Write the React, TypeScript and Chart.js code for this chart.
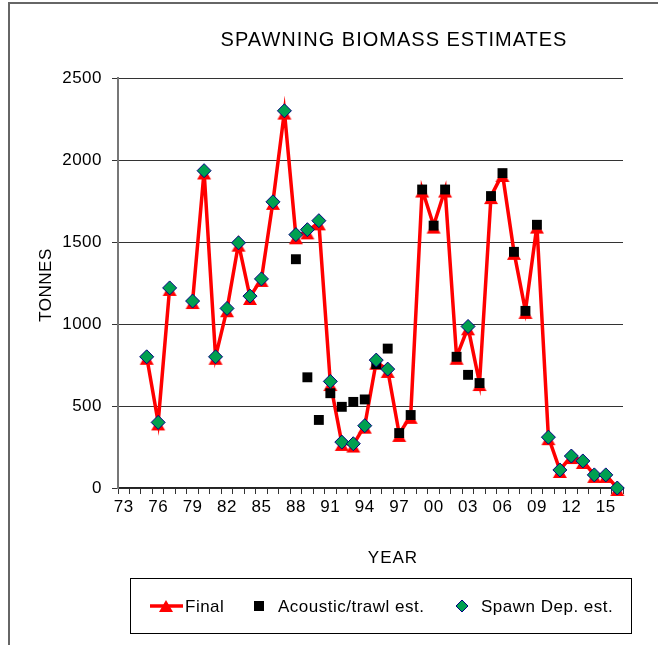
import React, { useEffect, useRef } from 'react';
import { Chart, registerables } from 'chart.js';

Chart.register(...registerables);

const YEARS = ['73','74','75','76','77','78','79','80','81','82','83','84','85','86','87','88','89','90','91','92','93','94','95','96','97','98','99','00','01','02','03','04','05','06','07','08','09','10','11','12','13','14','15','16'];
const X_TICK_LABELS = ['73','76','79','82','85','88','91','94','97','00','03','06','09','12','15'];

const FINAL = [null, null, 800, 400, 1220, null, 1140, 1930, 800, 1090, 1490, 1165, 1275, 1745, 2295, 1535, 1565, 1620, 640, 275, 265, 380, 770, 720, 330, 440, 1820, 1600, 1820, 800, 980, 640, 1780, 1915, 1440, 1080, 1600, 310, 110, 195, 165, 80, 80, 0];
const ACOUSTIC = [null, null, null, null, null, null, null, null, null, null, null, null, null, null, null, 1395, 675, 415, 578, 495, 525, 540, 755, 850, 335, 445, 1820, 1600, 1820, 800, 690, 640, 1780, 1920, 1440, 1080, 1605, null, null, null, null, null, null, null];
const SPAWN = [null, null, 800, 400, 1220, null, 1140, 1935, 800, 1095, 1495, 1170, 1275, 1745, 2300, 1545, 1575, 1630, 650, 280, 270, 380, 780, 725, null, null, null, null, null, null, 985, null, null, null, null, null, null, 310, 110, 195, 165, 80, 80, 0];

const TITLE = 'SPAWNING BIOMASS ESTIMATES';
const Y_TITLE = 'TONNES';
const X_TITLE = 'YEAR';
const LEGEND_LABELS = ['Final', 'Acoustic/trawl est.', 'Spawn Dep. est.'];

const FONT = '"Liberation Sans", Arial, sans-serif';
const RED = '#FF0000';
const GREEN = '#00A050';
const NAVY = '#000080';

function drawTri(ctx: CanvasRenderingContext2D, cx: number, cy: number) {
  ctx.beginPath();
  ctx.moveTo(cx, cy - 4);
  ctx.lineTo(cx + 7, cy + 8);
  ctx.lineTo(cx - 7, cy + 8);
  ctx.closePath();
  ctx.fill();
}

function makeTriangle(): HTMLCanvasElement {
  const c = document.createElement('canvas');
  c.width = 16;
  c.height = 24;
  const g = c.getContext('2d')!;
  g.fillStyle = RED;
  drawTri(g, 8, 12);
  return c;
}

const decorPlugin = {
  id: 'decor',
  beforeDraw(chart: any) {
    const ctx = chart.ctx as any;
    ctx.letterSpacing = '0.5px';
  },
  afterDraw(chart: any) {
    const ctx = chart.ctx as any;
    ctx.save();
    // frame
    ctx.strokeStyle = '#666';
    ctx.lineWidth = 2;
    ctx.beginPath();
    ctx.moveTo(9, 645);
    ctx.lineTo(9, 3);
    ctx.lineTo(658, 3);
    ctx.stroke();

    ctx.fillStyle = '#000';
    ctx.textAlign = 'center';
    ctx.textBaseline = 'middle';
    // title
    ctx.font = `20px ${FONT}`;
    ctx.letterSpacing = '1px';
    ctx.fillText(TITLE, 394, 40);
    // axis titles
    ctx.font = `17px ${FONT}`;
    ctx.letterSpacing = '1px';
    ctx.fillText(X_TITLE, 393, 558);
    ctx.letterSpacing = '0.5px';
    ctx.save();
    ctx.translate(46, 285);
    ctx.rotate(-Math.PI / 2);
    ctx.fillText(Y_TITLE, 0, 0);
    ctx.restore();

    // legend box
    ctx.strokeStyle = '#000';
    ctx.lineWidth = 1;
    ctx.strokeRect(130.5, 578.5, 501, 55);
    const ly = 606;
    ctx.textAlign = 'left';
    ctx.font = `17px ${FONT}`;
    ctx.letterSpacing = '0.5px';
    // Final
    ctx.strokeStyle = RED;
    ctx.lineWidth = 3.5;
    ctx.beginPath();
    ctx.moveTo(150, ly);
    ctx.lineTo(183, ly);
    ctx.stroke();
    ctx.fillStyle = RED;
    drawTri(ctx, 166, ly - 2);
    ctx.fillStyle = '#000';
    ctx.fillText(LEGEND_LABELS[0], 185, ly + 1);
    // Acoustic
    ctx.fillRect(254, ly - 5, 10, 10);
    ctx.fillText(LEGEND_LABELS[1], 278, ly + 1);
    // Spawn
    ctx.fillStyle = GREEN;
    ctx.strokeStyle = NAVY;
    ctx.lineWidth = 1;
    ctx.beginPath();
    ctx.moveTo(462, ly - 6);
    ctx.lineTo(468, ly);
    ctx.lineTo(462, ly + 6);
    ctx.lineTo(456, ly);
    ctx.closePath();
    ctx.fill();
    ctx.stroke();
    ctx.fillStyle = '#000';
    ctx.fillText(LEGEND_LABELS[2], 481, ly + 1);
    ctx.restore();
  },
};

export default function App() {
  const ref = useRef<HTMLCanvasElement>(null);
  useEffect(() => {
    if (!ref.current) return;
    const tri = makeTriangle();
    const chart = new Chart(ref.current, {
      type: 'line',
      data: {
        labels: YEARS,
        datasets: [
          {
            label: LEGEND_LABELS[0],
            data: FINAL,
            borderColor: RED,
            backgroundColor: RED,
            borderWidth: 3.5,
            pointStyle: tri as any,
            pointRadius: 7,
            pointBackgroundColor: RED,
            pointBorderColor: RED,
            pointBorderWidth: 0,
            spanGaps: false,
            order: 3,
            clip: false as any,
            tension: 0,
          },
          {
            label: LEGEND_LABELS[1],
            data: ACOUSTIC,
            showLine: false,
            pointStyle: 'rect',
            pointRadius: 7,
            pointBackgroundColor: '#000',
            pointBorderColor: '#000',
            pointBorderWidth: 0,
            order: 2,
            clip: false as any,
          },
          {
            label: LEGEND_LABELS[2],
            data: SPAWN,
            showLine: false,
            pointStyle: 'rectRot',
            pointRadius: 7,
            pointBackgroundColor: GREEN,
            pointBorderColor: NAVY,
            pointBorderWidth: 1,
            order: 1,
            clip: false as any,
          },
        ],
      },
      options: {
        animation: false,
        responsive: false,
        devicePixelRatio: 1,
        layout: { padding: { left: 0, right: 35, top: 78, bottom: 0 } },
        plugins: { legend: { display: false }, title: { display: false }, tooltip: { enabled: false } },
        scales: {
          x: {
            type: 'category',
            offset: true,
            grid: { drawOnChartArea: false, drawTicks: true, tickLength: 6, color: '#333', offset: true },
            border: { color: '#222', width: 1.5 },
            ticks: {
              autoSkip: false,
              maxRotation: 0,
              minRotation: 0,
              padding: 3,
              color: '#000',
              font: { family: FONT, size: 17 },
              callback: (_v: any, i: number) => (X_TICK_LABELS.includes(YEARS[i]) ? YEARS[i] : ''),
            },
            afterFit: (s: any) => { s.height = 157; },
          },
          y: {
            min: 0,
            max: 2500,
            ticks: {
              stepSize: 500,
              color: '#000',
              padding: 10,
              font: { family: FONT, size: 17 },
              callback: (v: any) => String(v),
            },
            grid: { color: '#333', lineWidth: 1, tickLength: 6, tickColor: '#333' },
            border: { color: '#777', width: 2 },
            afterFit: (s: any) => { s.width = 118; },
          },
        },
      },
      plugins: [decorPlugin],
    });
    return () => chart.destroy();
  }, []);
  return (
    <div style={{ position: 'absolute', left: 0, top: 0, width: 658, height: 645, background: '#fff' }}>
      <canvas ref={ref} width={658} height={645} />
    </div>
  );
}
